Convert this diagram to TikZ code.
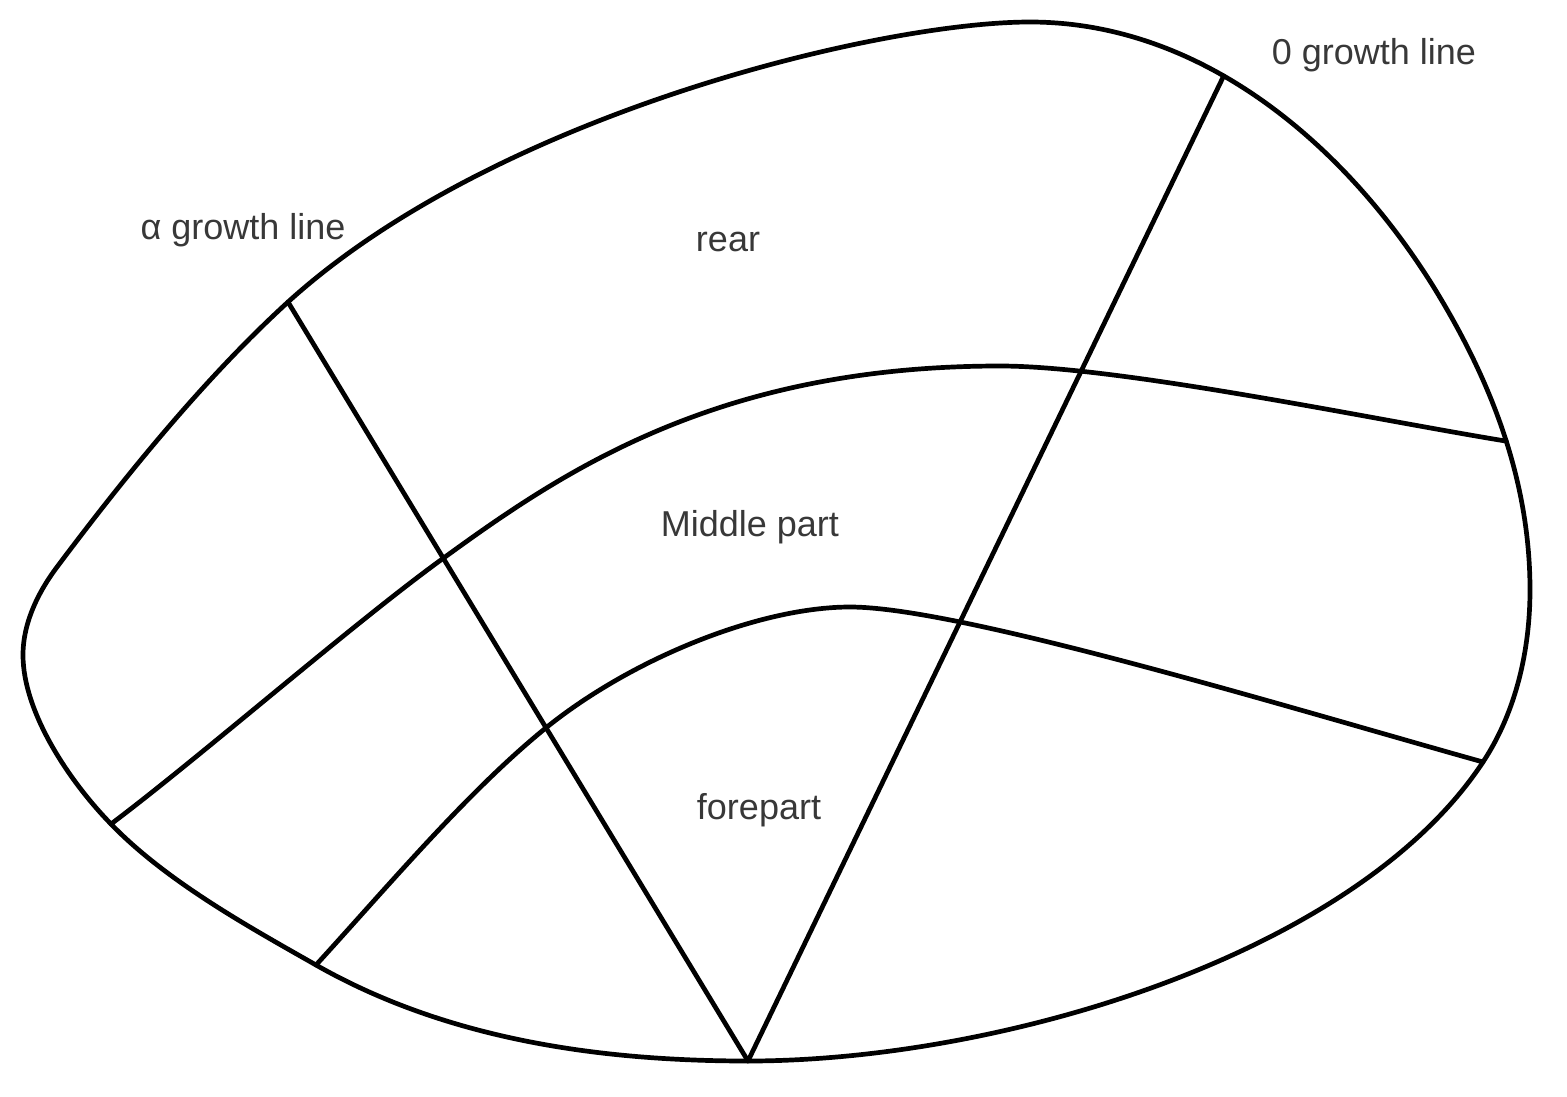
\documentclass[tikz,border=0pt]{standalone}
\usepackage{fontspec}
\setmainfont{Liberation Sans}
\begin{document}
\begin{tikzpicture}[x=1pt,y=-1pt,
  edge/.style={line width=4.7pt,black,line join=round,line cap=round},
  lbl/.style={text=black!78,font=\fontsize{36}{43}\selectfont,inner sep=0pt}]
\useasboundingbox (0,0) rectangle (1567,1096);
% outline key points
\coordinate (TL) at (288,302);
\coordinate (Top) at (1030,22);
\coordinate (R1) at (1433,286);
\coordinate (R2) at (1530,590);
\coordinate (LR) at (1483,762);
\coordinate (B) at (748,1061);
\coordinate (LL) at (316,965);
\coordinate (ML) at (111,824);
\coordinate (L1) at (23,655);
\coordinate (L2) at (57,567);
% outline
\draw[edge] (TL) .. controls (495,114) and (880,22) .. (Top)
  .. controls (1200,22) and (1343,142) .. coordinate[pos=0.41] (TR) (R1)
  .. controls (1491,380) and (1530,480) .. coordinate[pos=0.53] (MR) (R2)
  .. controls (1530,650) and (1516,712) .. (LR)
  .. controls (1356,955) and (1000,1061) .. (B)
  .. controls (598,1061) and (446,1039) .. (LL)
  .. controls (251,928) and (167,882) .. (ML)
  .. controls (69,781) and (23,712) .. (L1)
  .. controls (23,622) and (39,591) .. (L2)
  .. controls (129,471) and (207,376) .. (TL) -- cycle;
% straight growth lines
\draw[edge] (TL) -- (B);
\draw[edge] (TR) -- (B);
% middle curve
\coordinate (M1) at (445,557);
\coordinate (M2) at (1000,366);
\draw[edge] (ML) .. controls (199,758) and (356,621) .. (M1)
  .. controls (566,469) and (720,366) .. (M2)
  .. controls (1120,366) and (1376,420) .. (MR);
% lower curve
\coordinate (F1) at (547,727);
\coordinate (F2) at (850,607);
\draw[edge] (LL) .. controls (390,884) and (469,790) .. (F1)
  .. controls (633,658) and (760,607) .. (F2)
  .. controls (960,607) and (1290,708) .. (LR);
% labels
\node[lbl] (alpha) at (243,230) {α growth line};
\node[lbl] (zero) at (1374,55) {0 growth line};
\node[lbl] (rear) at (728,242) {rear};
\node[lbl] (mid) at (750,527) {Middle part};
\node[lbl] (fore) at (759,810) {forepart};
\end{tikzpicture}
\end{document}
